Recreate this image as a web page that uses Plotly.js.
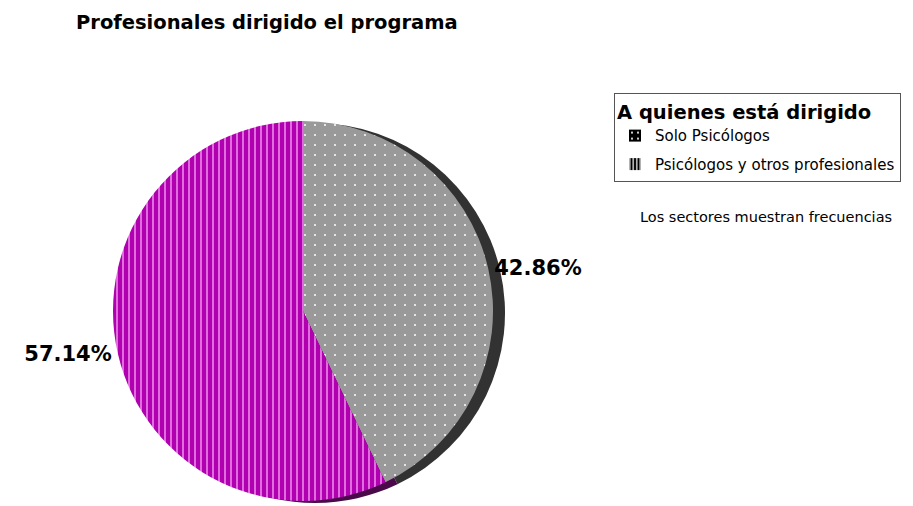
<!DOCTYPE html>
<html>
<head>
<meta charset="utf-8">
<script src="https://cdn.plot.ly/plotly-3.0.1.min.js"></script>
<style>html,body{margin:0;padding:0;background:#fff;}#chart{width:913px;height:506px;}</style>
</head>
<body>
<div id="chart"></div>
<script>
// Data
const categories = ['Solo Psicólogos', 'Psicólogos y otros profesionales'];
const frequencies = [3, 4];
const chartTitle = 'Profesionales dirigido el programa';
const legendTitle = 'A quienes está dirigido';
const noteText = 'Los sectores muestran frecuencias';

const W = 913, H = 506;
const cx = 303, cy = 311, r = 190;
const dx = 12, dy = 2;
function dom(x, y) {
  return {x: [(x - r) / W, (x + r) / W], y: [1 - (y + r) / H, 1 - (y - r) / H]};
}

const FONT = 'DejaVu Sans, Liberation Sans, Arial, sans-serif';
const shapes = ['.', '|'];

// legend-only traces (hidden behind the legend box), one per category so items can be spaced
const legendTraces = categories.map((c, i) => ({
  type: 'pie', labels: [c], values: [frequencies[i]], sort: false,
  legendgroup: 'g' + i,
  domain: {x: [0.75, 0.76], y: [0.72, 0.73]},
  textinfo: 'none', hoverinfo: 'skip',
  marker: {colors: ['#000000'], line: {width: 0},
    pattern: {shape: shapes[i], fgcolor: '#ffffff', bgcolor: '#000000', fillmode: 'replace', size: i === 0 ? 6 : 3.5, solidity: i === 0 ? 0.1 : 0.35}}
}));

const shadowTrace = {
  type: 'pie', labels: categories, values: frequencies, sort: false,
  direction: 'clockwise', rotation: 0, showlegend: false,
  domain: dom(cx + dx, cy + dy),
  textinfo: 'none', hoverinfo: 'skip',
  marker: {colors: ['#323232', '#4a0a4a'], line: {width: 0}}
};

const mainTrace = {
  type: 'pie', labels: categories, values: frequencies, sort: false,
  direction: 'clockwise', rotation: 0, showlegend: false,
  domain: dom(cx, cy),
  textposition: 'outside', texttemplate: '%{percent:.2%}',
  outsidetextfont: {family: FONT, size: 21, color: '#000', weight: 'bold'},
  marker: {colors: ['#999999', '#b000b0'], line: {width: 0},
    pattern: {shape: shapes, fgcolor: ['#ffffff', '#f090f0'], bgcolor: ['#999999', '#b000b0'], fillmode: 'replace',
      size: [10, 6], solidity: [0.03, 0.25]}}
};

const layout = {
  width: W, height: H,
  margin: {l: 0, r: 0, t: 0, b: 0},
  paper_bgcolor: '#ffffff', plot_bgcolor: '#ffffff',
  font: {family: FONT, color: '#000'},
  title: {text: chartTitle, x: 76 / W, xanchor: 'left', xref: 'paper', y: 1 - 22 / H, yanchor: 'middle', yref: 'container',
    font: {family: FONT, size: 19.5, weight: 'bold', color: '#000'}},
  showlegend: true,
  legend: {
    x: 614 / W, xanchor: 'left', y: 1 - 93 / H, yanchor: 'top',
    bgcolor: '#ffffff', bordercolor: '#555555', borderwidth: 1,
    title: {text: legendTitle, font: {family: FONT, size: 19.5, weight: 'bold'}},
    font: {family: FONT, size: 15, color: '#000'},
    itemwidth: 30, traceorder: 'grouped', tracegroupgap: 6
  },
  annotations: [{text: noteText, xref: 'paper', yref: 'paper', x: 766 / W, y: 1 - 217 / H,
    xanchor: 'center', yanchor: 'middle', showarrow: false, font: {family: FONT, size: 14.5, color: '#000'}}]
};

Plotly.newPlot('chart', legendTraces.concat([shadowTrace, mainTrace]), layout, {displayModeBar: false, staticPlot: true});
</script>
</body>
</html>
